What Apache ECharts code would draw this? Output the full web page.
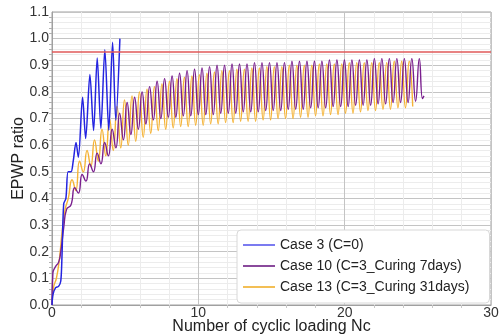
<!DOCTYPE html>
<html>
<head>
<meta charset="utf-8">
<script src="https://cdn.jsdelivr.net/npm/echarts@6/dist/echarts.min.js"></script>
<style>
  html, body { margin: 0; padding: 0; background: #fff; }
  #chart { width: 504px; height: 335px; }
</style>
</head>
<body>
<div id="chart"></div>
<script>
  // Case 3 (C=0) - read point by point
  var case3X = [0, 0.07, 0.25, 0.45, 0.6, 0.68, 0.8, 0.95, 1.1, 1.3, 1.45, 1.64, 1.8, 2.09, 2.3, 2.59, 2.84, 3.09, 3.34, 3.61, 3.88, 4.14, 4.36, 4.64];
  var case3Y = [0, 0.04, 0.065, 0.07, 0.09, 0.18, 0.38, 0.40, 0.50, 0.50, 0.54, 0.61, 0.555, 0.78, 0.625, 0.865, 0.655, 0.927, 0.663, 0.958, 0.656, 0.986, 0.694, 1.0];

  // half-cycle spacing of the peaks along Nc
  var peakStep = 0.512;

  // Case 10 (C=3_Curing 7days)
  var case10LeadX = [0, 0.06, 0.25, 0.45, 0.6, 0.8, 1.0];
  var case10LeadY = [0, 0.12, 0.145, 0.16, 0.2, 0.29, 0.36];
  var case10FirstPeak = 1.55;
  var case10Peaks = [0.44, 0.49, 0.53, 0.57, 0.61, 0.66, 0.72, 0.76, 0.78, 0.80, 0.82, 0.84, 0.85, 0.86, 0.87, 0.88,
    0.885, 0.89, 0.895, 0.90, 0.90, 0.905, 0.905, 0.905, 0.91, 0.91, 0.91, 0.91, 0.91, 0.915, 0.915, 0.915,
    0.915, 0.915, 0.92, 0.92, 0.92, 0.92, 0.92, 0.92, 0.925, 0.925, 0.925, 0.925, 0.925, 0.925, 0.925];
  var case10Troughs = [0.375, 0.42, 0.465, 0.50, 0.53, 0.56, 0.59, 0.62, 0.64, 0.66, 0.68, 0.695, 0.70, 0.705, 0.705, 0.71,
    0.71, 0.715, 0.715, 0.715, 0.72, 0.72, 0.72, 0.725, 0.725, 0.725, 0.73, 0.73, 0.73, 0.735, 0.735, 0.735,
    0.74, 0.74, 0.74, 0.745, 0.745, 0.745, 0.75, 0.75, 0.75, 0.755, 0.755, 0.76, 0.76, 0.76, 0.765];
  var case10TailX = [25.32, 25.42];
  var case10TailY = [0.775, 0.785];

  // Case 13 (C=3_Curing 31days)
  var case13LeadX = [0, 0.12, 0.3, 0.5, 0.7, 0.9];
  var case13LeadY = [0, 0.07, 0.1, 0.17, 0.28, 0.36];
  var case13FirstPeak = 1.37;
  var case13Peaks = [0.47, 0.54, 0.58, 0.62, 0.66, 0.70, 0.745, 0.77, 0.785, 0.80, 0.81, 0.82, 0.83, 0.84, 0.85, 0.855,
    0.86, 0.865, 0.87, 0.875, 0.88, 0.88, 0.885, 0.885, 0.89, 0.89, 0.895, 0.895, 0.895, 0.90, 0.90, 0.90,
    0.90, 0.905, 0.905, 0.905, 0.905, 0.91, 0.91, 0.91, 0.91, 0.91, 0.91, 0.915, 0.915, 0.915];
  var case13Troughs = [0.40, 0.43, 0.50, 0.52, 0.54, 0.56, 0.58, 0.59, 0.60, 0.615, 0.63, 0.645, 0.655, 0.66, 0.665, 0.67,
    0.67, 0.675, 0.675, 0.68, 0.68, 0.685, 0.685, 0.69, 0.69, 0.69, 0.695, 0.695, 0.70, 0.70, 0.70, 0.705,
    0.705, 0.71, 0.71, 0.715, 0.715, 0.72, 0.72, 0.725, 0.73, 0.73, 0.735, 0.735, 0.74, 0.74];
  var case13TailX = [24.65];
  var case13TailY = [0.745];

  var limitLine = 0.95;
  var yTicks = [0, 0.1, 0.2, 0.3, 0.4, 0.5, 0.6, 0.7, 0.8, 0.9, 1.0, 1.1];
  var xTicks = [0, 10, 20, 30];

  function zipXY(xs, ys) {
    var out = [];
    for (var i = 0; i < xs.length; i++) out.push([xs[i], ys[i]]);
    return out;
  }

  // lead-in, then trough / peak for each half-cycle, then the tail
  function buildCyclic(leadX, leadY, firstPeak, peaks, troughs, tailX, tailY) {
    var pts = zipXY(leadX, leadY);
    for (var i = 0; i < peaks.length; i++) {
      var px = firstPeak + i * peakStep;
      pts.push([+(px - peakStep / 2).toFixed(3), troughs[i]]);
      pts.push([+px.toFixed(3), peaks[i]]);
    }
    return pts.concat(zipXY(tailX, tailY));
  }

  var chart = echarts.init(document.getElementById('chart'), null, { renderer: 'canvas' });
  var font = 'Liberation Sans, Arial, sans-serif';

  var option = {
    animation: false,
    backgroundColor: '#fff',
    grid: {
      left: 52, right: 13, top: 12, bottom: 30,
      outerBoundsMode: 'none', containLabel: false,
      show: true, borderColor: '#a0a0a0', borderWidth: 1
    },
    legend: {
      orient: 'vertical',
      left: 237, top: 230,
      backgroundColor: '#fff',
      borderColor: '#d8d8d8', borderWidth: 1, borderRadius: 4,
      padding: [8, 20, 9, 6],
      itemGap: 7,
      itemWidth: 32, itemHeight: 2,
      icon: 'rect',
      textStyle: { fontFamily: font, fontSize: 14, color: '#222' },
      data: [
        { name: 'Case 3 (C=0)', itemStyle: { color: '#7b7bf0' } },
        { name: 'Case 10 (C=3_Curing 7days)', itemStyle: { color: '#8a4a9c' } },
        { name: 'Case 13 (C=3_Curing 31days)', itemStyle: { color: '#f3bf55' } }
      ]
    },
    xAxis: {
      type: 'value', min: 0, max: 30, interval: 10,
      name: 'Number of cyclic loading Nc',
      nameLocation: 'middle', nameGap: 14, nameMoveOverlap: false,
      nameTextStyle: { fontFamily: font, fontSize: 16, color: '#222' },
      axisLine: { show: true, lineStyle: { color: '#a0a0a0' } },
      axisTick: { show: false },
      minorTick: { show: true, splitNumber: 5, length: 3, lineStyle: { color: '#c8c8c8' } },
      axisLabel: {
        fontFamily: font, fontSize: 14, color: '#333', margin: 1,
        formatter: function (v) { return xTicks.indexOf(v) >= 0 ? String(v) : ''; }
      },
      splitLine: { show: true, lineStyle: { color: '#c4c4c4', width: 1 } },
      minorSplitLine: { show: true, lineStyle: { color: '#ececec', width: 1 } }
    },
    yAxis: {
      type: 'value', min: 0, max: 1.1, interval: 0.1,
      name: 'EPWP ratio',
      nameLocation: 'middle', nameGap: 25, nameMoveOverlap: false,
      nameTextStyle: { fontFamily: font, fontSize: 16, color: '#222' },
      axisLine: { show: true, lineStyle: { color: '#a0a0a0' } },
      axisTick: { show: false },
      minorTick: { show: true, splitNumber: 5, length: 3, lineStyle: { color: '#b0b0b0' } },
      axisLabel: {
        fontFamily: font, fontSize: 14, color: '#333', margin: 3,
        formatter: function (v) {
          for (var i = 0; i < yTicks.length; i++) {
            if (Math.abs(yTicks[i] - v) < 1e-6) return yTicks[i].toFixed(1);
          }
          return '';
        }
      },
      splitLine: { show: true, lineStyle: { color: '#c4c4c4', width: 1 } },
      minorSplitLine: { show: true, lineStyle: { color: '#ececec', width: 1 } }
    },
    series: [
      {
        name: 'Case 3 (C=0)', type: 'line', z: 4,
        data: zipXY(case3X, case3Y),
        showSymbol: false, smooth: 0.3,
        lineStyle: { color: '#2424e0', width: 1.5 },
        itemStyle: { color: '#2424e0' },
        markLine: {
          silent: true, symbol: ['none', 'none'],
          label: { show: false },
          lineStyle: { color: '#e05a5a', width: 1.5, type: 'solid' },
          data: [{ yAxis: limitLine }]
        }
      },
      {
        name: 'Case 10 (C=3_Curing 7days)', type: 'line', z: 3,
        data: buildCyclic(case10LeadX, case10LeadY, case10FirstPeak, case10Peaks, case10Troughs, case10TailX, case10TailY),
        showSymbol: false, smooth: 0.5,
        lineStyle: { color: '#7a1f8e', width: 1.4 },
        itemStyle: { color: '#7a1f8e' }
      },
      {
        name: 'Case 13 (C=3_Curing 31days)', type: 'line', z: 2,
        data: buildCyclic(case13LeadX, case13LeadY, case13FirstPeak, case13Peaks, case13Troughs, case13TailX, case13TailY),
        showSymbol: false, smooth: 0.5,
        lineStyle: { color: '#f5b335', width: 1.4 },
        itemStyle: { color: '#f5b335' }
      }
    ]
  };
  chart.setOption(option);
</script>
</body>
</html>
